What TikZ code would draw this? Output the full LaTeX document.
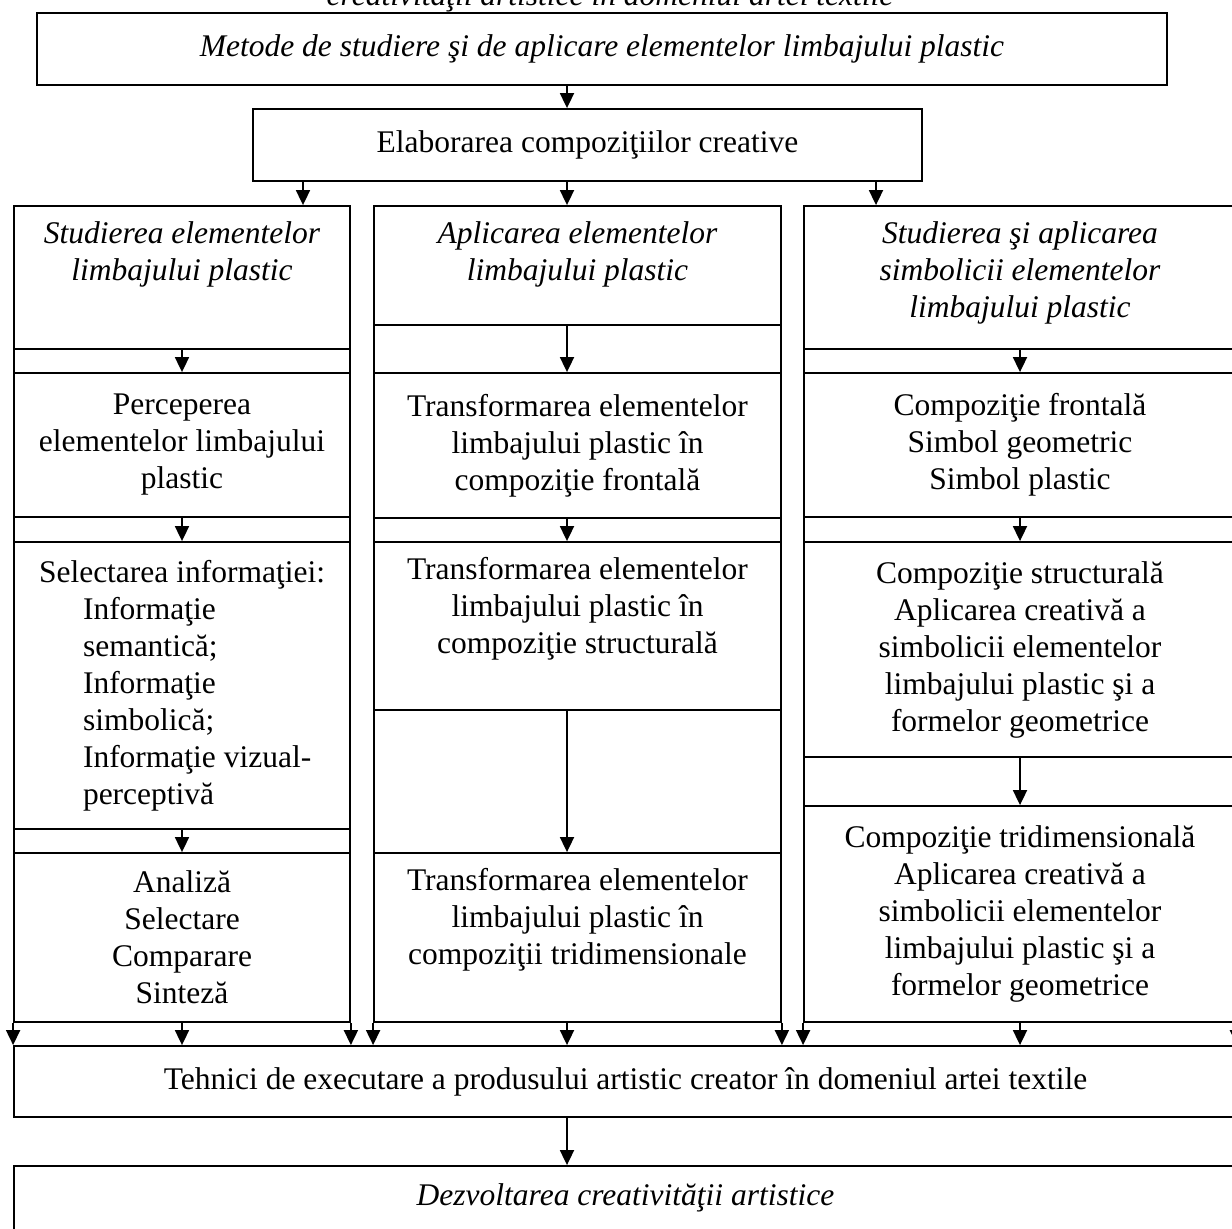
\documentclass[tikz,border=0pt]{standalone}
\usepackage{fontspec}
\setmainfont{Liberation Serif}
\usetikzlibrary{positioning,fit,arrows.meta}
\tikzset{
  sect/.style={draw, line width=0.9pt, inner sep=0pt},
  txt/.style={align=center, inner sep=0pt, font=\fontsize{15.75}{18.5}\selectfont},
  itxt/.style={txt, font=\fontsize{15.75}{18.5}\selectfont\itshape},
  arr/.style={-{Triangle[length=7.5pt,width=7pt]}, line width=0.9pt},
}
\begin{document}
\begin{tikzpicture}[x=0.5pt, y=-0.5pt]
    \useasboundingbox (0,0) rectangle (1232,1229);
    \coordinate (sp) at (567,0);
    \coordinate (aL) at (303,0);
    \coordinate (aR) at (876,0);
    % top
    \node[itxt, anchor=base] (title) at (610,6) {creativităţii artistice în domeniul artei textile};
    \node[sect, fit={(37,13) (1167,85)}] (met) {};
    \node[itxt] (mett) at (met.center) {Metode de studiere şi de aplicare elementelor limbajului plastic};
    \node[sect, fit={(253,109) (922,181)}] (ela) {};
    \node[txt] (elat) at (ela.center) {Elaborarea compoziţiilor creative};
    \draw[arr] (met.south -| sp) -- (ela.north -| sp);
    % columns
    \node[sect, fit={(14,206) (350,1022)}] (colL) {};
    \node[sect, fit={(374,206) (781,1022)}] (colM) {};
    \node[sect, fit={(804,206) (1236,1022)}] (colR) {};
    \draw[arr] (ela.south -| aL) -- (colL.north -| aL);
    \draw[arr] (ela.south -| sp) -- (colM.north -| sp);
    \draw[arr] (ela.south -| aR) -- (colR.north -| aR);
    % left column
    \node[sect, fit={(14,206) (350,349)}] (L0) {};
    \node[itxt, below=8pt of L0.north] (L0t) {Studierea elementelor\\limbajului plastic};
    \node[sect, fit={(14,373) (350,517)}] (L1) {};
    \node[txt] (L1t) at (L1.center) {Perceperea\\elementelor limbajului\\plastic};
    \node[sect, fit={(14,542) (350,829)}] (L2) {};
    \node[txt, align=left] (L2t) at (L2.center) {Selectarea informaţiei:\\
      \hspace*{22pt}Informaţie\\\hspace*{22pt}semantică;\\
      \hspace*{22pt}Informaţie\\\hspace*{22pt}simbolică;\\
      \hspace*{22pt}Informaţie vizual-\\\hspace*{22pt}perceptivă};
    \node[sect, fit={(14,853) (350,1022)}] (L3) {};
    \node[txt] (L3t) at (L3.center) {Analiză\\Selectare\\Comparare\\Sinteză};
    \foreach \a/\b in {L0/L1, L1/L2, L2/L3}
      \draw[arr] (\a.south) -- (\b.north);
    % middle column
    \node[sect, fit={(374,206) (781,325)}] (M0) {};
    \node[itxt, below=8pt of M0.north] (M0t) {Aplicarea elementelor\\limbajului plastic};
    \node[sect, fit={(374,373) (781,518)}] (M1) {};
    \node[txt] (M1t) at (M1.center) {Transformarea elementelor\\limbajului plastic în\\compoziţie frontală};
    \node[sect, fit={(374,542) (781,710)}] (M2) {};
    \node[txt, below=8pt of M2.north] (M2t) {Transformarea elementelor\\limbajului plastic în\\compoziţie structurală};
    \node[sect, fit={(374,853) (781,1022)}] (M3) {};
    \node[txt, below=8pt of M3.north] (M3t) {Transformarea elementelor\\limbajului plastic în\\compoziţii tridimensionale};
    \foreach \a/\b in {M0/M1, M1/M2, M2/M3}
      \draw[arr] (\a.south -| sp) -- (\b.north -| sp);
    % right column
    \node[sect, fit={(804,206) (1236,349)}] (R0) {};
    \node[itxt, below=8pt of R0.north] (R0t) {Studierea şi aplicarea\\simbolicii elementelor\\limbajului plastic};
    \node[sect, fit={(804,373) (1236,517)}] (R1) {};
    \node[txt] (R1t) at (R1.center) {Compoziţie frontală\\Simbol geometric\\Simbol plastic};
    \node[sect, fit={(804,542) (1236,757)}] (R2) {};
    \node[txt] (R2t) at (R2.center) {Compoziţie structurală\\Aplicarea creativă a\\simbolicii elementelor\\limbajului plastic şi a\\formelor geometrice};
    \node[sect, fit={(804,806) (1236,1022)}] (R3) {};
    \node[txt] (R3t) at (R3.center) {Compoziţie tridimensională\\Aplicarea creativă a\\simbolicii elementelor\\limbajului plastic şi a\\formelor geometrice};
    \foreach \a/\b in {R0/R1, R1/R2, R2/R3}
      \draw[arr] (\a.south) -- (\b.north);
    % bottom
    \node[sect, fit={(14,1046) (1237,1117)}] (teh) {};
    \node[txt] (teht) at (teh.center) {Tehnici de executare a produsului artistic creator în domeniul artei textile};
    \node[sect, fit={(14,1166) (1237,1230)}] (dez) {};
    \node[itxt] (dezt) at (dez.center) {Dezvoltarea creativităţii artistice};
    \foreach \c in {colL, colM, colR}
      \foreach \p in {south west, south east}
        \draw[arr] (\c.\p) -- (\c.\p |- teh.north);
    \draw[arr] (colL.south) -- (colL.south |- teh.north);
    \draw[arr] (colM.south -| sp) -- (teh.north -| sp);
    \draw[arr] (colR.south) -- (colR.south |- teh.north);
    \draw[arr] (teh.south -| sp) -- (dez.north -| sp);
\end{tikzpicture}
\end{document}
